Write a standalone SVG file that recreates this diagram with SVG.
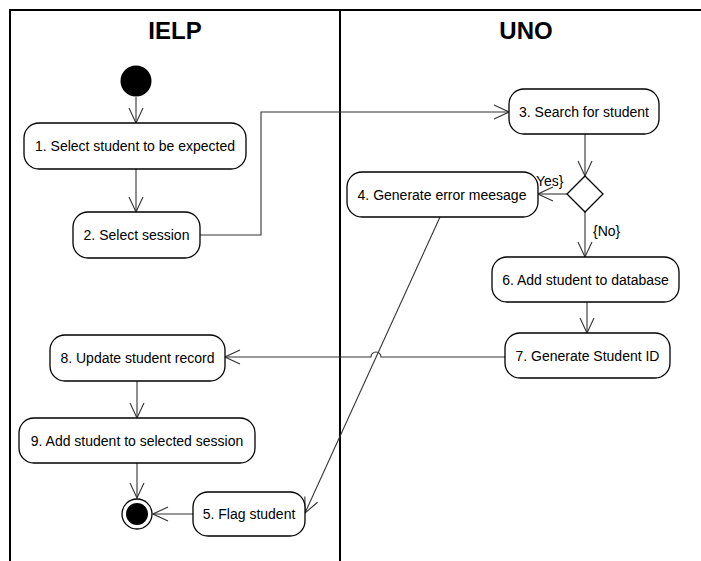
<svg xmlns="http://www.w3.org/2000/svg" width="701" height="561" viewBox="0 0 701 561">
<style>
.frame{stroke:#000;stroke-width:2;fill:none}
.title{font-family:"Liberation Sans",Arial,sans-serif;font-weight:bold;font-size:24px;fill:#000;text-anchor:middle}
.box{fill:#fff;stroke:#000;stroke-width:1.3}
.lbl{font-family:"Liberation Sans",Arial,sans-serif;font-size:14px;fill:#000;text-anchor:middle;dominant-baseline:central}
.guard{font-family:"Liberation Sans",Arial,sans-serif;font-size:14px;fill:#000}
.conn{stroke:#333;stroke-width:1.1;fill:none}
</style>
<defs>
<marker id="arr" markerUnits="userSpaceOnUse" markerWidth="17" markerHeight="16" viewBox="-16 -8 17 16" refX="0" refY="0" orient="auto">
<path d="M-15,-7 L0,0 L-15,7" fill="none" stroke="#333" stroke-width="1.1"/>
</marker>
</defs>
<rect width="701" height="561" fill="#fff"/>
<g id="swimlanes">
<path class="frame" d="M10,561 V10 H701"/>
<path class="frame" d="M340,10 V561"/>
<text class="title" x="175" y="39">IELP</text>
<text class="title" x="526" y="39">UNO</text>
</g>
<g id="connectors">
<path class="conn" d="M136,97 V123" marker-end="url(#arr)"/>
<path class="conn" d="M136,169 V212" marker-end="url(#arr)"/>
<path class="conn" d="M200,235 H261 V112 H509" marker-end="url(#arr)"/>
<path class="conn" d="M585,134 V176" marker-end="url(#arr)"/>
<path class="conn" d="M567,194 H538" marker-end="url(#arr)"/>
<path class="conn" d="M585,212 V257" marker-end="url(#arr)"/>
<path class="conn" d="M587,302 V333" marker-end="url(#arr)"/>
<path class="conn" d="M505,357 H381 A5,5 0 0 0 371,357 H225" marker-end="url(#arr)"/>
<path class="conn" d="M137,381 V418" marker-end="url(#arr)"/>
<path class="conn" d="M137,463 V498" marker-end="url(#arr)"/>
<path class="conn" d="M193,514 H153" marker-end="url(#arr)"/>
<path class="conn" d="M440,217 L305,513" marker-end="url(#arr)"/>
<text class="guard" x="536" y="186">Yes}</text>
<text class="guard" x="593" y="236">{No}</text>
</g>
<g id="start"><circle cx="136" cy="81" r="15.5" fill="#000"/></g>
<g id="n1"><rect class="box" x="24" y="123" width="222" height="46" rx="15"/><text class="lbl" x="135" y="146">1. Select student to be expected</text></g>
<g id="n2"><rect class="box" x="73" y="212" width="127" height="46" rx="15"/><text class="lbl" x="136.5" y="235">2. Select session</text></g>
<g id="n3"><rect class="box" x="509" y="89" width="150" height="45" rx="15"/><text class="lbl" x="584" y="111.5">3. Search for student</text></g>
<g id="decision"><path d="M585,176 L603,194 L585,212 L567,194 Z" fill="#fff" stroke="#000" stroke-width="1.3"/></g>
<g id="n4"><rect class="box" x="347" y="172" width="191" height="45" rx="15"/><text class="lbl" x="442" y="194.5">4. Generate error meesage</text></g>
<g id="n6"><rect class="box" x="492" y="257" width="187" height="45" rx="15"/><text class="lbl" x="585.5" y="279.5">6. Add student to database</text></g>
<g id="n7"><rect class="box" x="505" y="333" width="165" height="45" rx="15"/><text class="lbl" x="587.5" y="355.5">7. Generate Student ID</text></g>
<g id="n8"><rect class="box" x="50" y="335" width="175" height="46" rx="15"/><text class="lbl" x="137.5" y="358">8. Update student record</text></g>
<g id="n9"><rect class="box" x="19" y="418" width="236" height="45" rx="15"/><text class="lbl" x="137" y="440.5">9. Add student to selected session</text></g>
<g id="n5"><rect class="box" x="193" y="492" width="112" height="44" rx="15"/><text class="lbl" x="249" y="514">5. Flag student</text></g>
<g id="end"><circle cx="137" cy="514" r="15" fill="#fff" stroke="#000" stroke-width="1.3"/><circle cx="137" cy="514" r="11" fill="#000"/></g>
</svg>
